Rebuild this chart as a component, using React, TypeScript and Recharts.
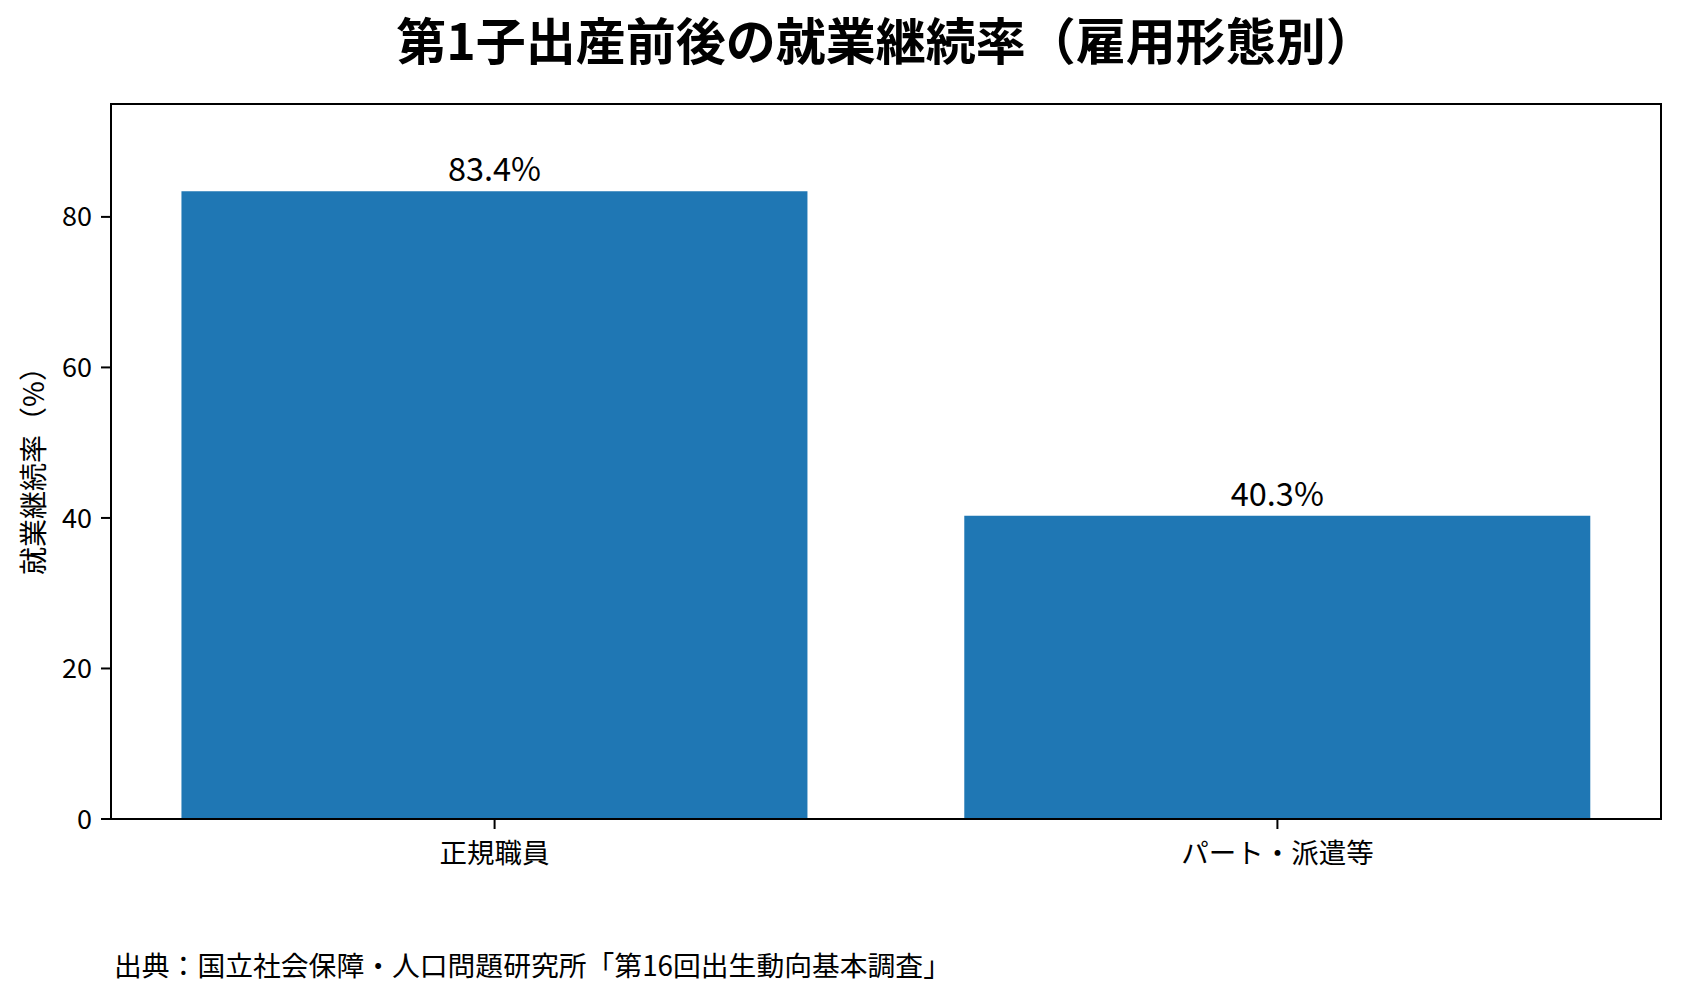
import { BarChart, Bar, XAxis, YAxis, ReferenceArea } from "recharts";

const categories = ["正規職員", "パート・派遣等"];
const rates = [83.4, 40.3];
const yTicks = [0, 20, 40, 60, 80];
const xTicks = [0, 1];

const title = "第1子出産前後の就業継続率（雇用形態別）";
const yLabel = "就業継続率（%）";
const source = "出典：国立社会保障・人口問題研究所「第16回出生動向基本調査」";

const data = categories.map((name, i) => ({ pos: i, name, rate: rates[i] }));

// matplotlib-style limits: bars of width 0.8 plus 5% margins
const X_DOMAIN: [number, number] = [-0.49, 1.49];
const Y_DOMAIN: [number, number] = [0, 95];

const FONT = '"Noto Sans CJK JP", "Noto Sans", sans-serif';
const BLUE = "#1f77b4";

function ValueLabel(props: any) {
  const { x, y, width, value } = props;
  return (
    <text
      x={Number(x) + Number(width) / 2}
      y={Number(y) - 10}
      textAnchor="middle"
      fontSize={32.5}
      fill="#000"
    >
      {`${value}%`}
    </text>
  );
}

export default function App() {
  const spine = { stroke: "#000", strokeWidth: 2 };
  return (
    <div
      style={{
        position: "absolute",
        left: 0,
        top: 0,
        width: 1681,
        height: 1003,
        background: "#fff",
        fontFamily: FONT,
      }}
    >
      <BarChart
        width={1681}
        height={1003}
        data={data}
        margin={{ top: 104, right: 20, bottom: 124, left: 0 }}
        barCategoryGap="10%"
      >
        <XAxis
          dataKey="pos"
          type="number"
          domain={X_DOMAIN}
          ticks={xTicks}
          allowDataOverflow
          tickFormatter={(v: number) => categories[v] ?? ""}
          tick={{ fontSize: 27.5, fill: "#000" }}
          tickSize={10}
          tickMargin={14}
          height={60}
          axisLine={spine}
          tickLine={spine}
        />
        <YAxis
          type="number"
          domain={Y_DOMAIN}
          ticks={yTicks}
          allowDataOverflow
          width={111}
          tick={{ fontSize: 27, fill: "#000" }}
          tickSize={10}
          tickMargin={9}
          axisLine={spine}
          tickLine={spine}
        />
        <Bar
          dataKey="rate"
          fill={BLUE}
          isAnimationActive={false}
          label={ValueLabel}
        />
        <ReferenceArea
          x1={X_DOMAIN[0]}
          x2={X_DOMAIN[1]}
          y1={Y_DOMAIN[0]}
          y2={Y_DOMAIN[1]}
          fill="none"
          fillOpacity={0}
          stroke="#000"
          strokeWidth={2}
          ifOverflow="visible"
        />
      </BarChart>
      <svg
        width={1681}
        height={1003}
        style={{ position: "absolute", left: 0, top: 0, pointerEvents: "none" }}
      >
        <text
          x={886}
          y={60}
          textAnchor="middle"
          fontSize={50}
          fontWeight="bold"
          fill="#000"
        >
          {title}
        </text>
        <text
          transform="translate(32, 464) rotate(-90)"
          textAnchor="middle"
          dominantBaseline="central"
          fontSize={28}
          fill="#000"
        >
          {yLabel}
        </text>
        <text x={114} y={976} fontSize={27.8} fill="#000">
          {source}
        </text>
      </svg>
    </div>
  );
}
